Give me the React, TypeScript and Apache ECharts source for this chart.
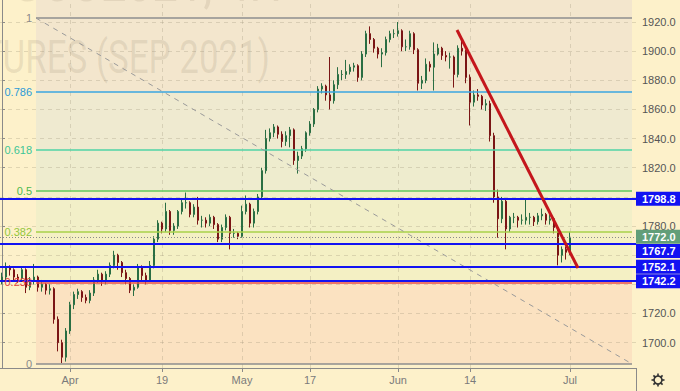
import React, { useEffect, useRef } from 'react';
import * as echarts from 'echarts';

// ---- data ----
const firstOpen = 1742;
const closes = [
  1745, 1752, 1750, 1745, 1744, 1750, 1738, 1742, 1745, 1738,
  1740, 1736, 1737, 1716, 1700, 1690, 1708, 1726, 1733, 1735,
  1731, 1729, 1734, 1743, 1747, 1742, 1747, 1753, 1760, 1755,
  1748, 1744, 1736, 1738, 1752, 1746, 1743, 1753, 1771, 1782,
  1778, 1790, 1777, 1780, 1790, 1796, 1796, 1788, 1793, 1784,
  1784, 1782, 1786, 1781, 1771, 1779, 1786, 1775, 1775, 1773,
  1790, 1795, 1782, 1790, 1800, 1818, 1840, 1844, 1848, 1843,
  1838, 1842, 1846, 1825, 1828, 1833, 1844, 1850, 1860, 1874,
  1876, 1870, 1866, 1877, 1884, 1884, 1886, 1889, 1890, 1882,
  1898, 1912, 1908, 1902, 1898, 1899, 1908, 1912, 1912, 1914,
  1903, 1903, 1912, 1901, 1878, 1880, 1891, 1889, 1898, 1902,
  1897, 1896, 1896, 1884, 1902, 1900, 1882, 1865, 1870, 1869,
  1863, 1864, 1842, 1800, 1785, 1797, 1778, 1786, 1786, 1784,
  1784, 1786, 1786, 1783, 1787, 1788, 1784, 1785, 1779, 1760,
  1764, 1762, 1772,
];
const highs = [
  1748, 1755, 1753, 1751, 1747, 1752, 1751, 1745, 1754, 1746,
  1743, 1741, 1740, 1738, 1718, 1702, 1710, 1728, 1735, 1737,
  1736, 1733, 1736, 1745, 1750, 1748, 1749, 1755, 1763, 1761,
  1756, 1750, 1745, 1740, 1754, 1753, 1748, 1756, 1773, 1784,
  1783, 1796, 1791, 1782, 1791, 1798, 1803, 1797, 1795, 1800,
  1787, 1786, 1788, 1787, 1782, 1781, 1788, 1787, 1778, 1776,
  1794, 1801, 1796, 1792, 1802, 1820, 1846, 1847, 1850, 1849,
  1845, 1845, 1848, 1847, 1831, 1835, 1845, 1852, 1861, 1876,
  1878, 1877, 1896, 1880, 1889, 1887, 1894, 1891, 1892, 1891,
  1900, 1914, 1917, 1909, 1903, 1902, 1910, 1914, 1915, 1920,
  1915, 1908, 1914, 1913, 1902, 1883, 1895, 1893, 1906, 1905,
  1903, 1900, 1899, 1897, 1904, 1908, 1901, 1884, 1873, 1874,
  1870, 1867, 1866, 1844, 1805, 1800, 1798, 1787, 1789, 1787,
  1788, 1798, 1789, 1787, 1789, 1792, 1789, 1788, 1786, 1780,
  1766, 1766, 1776,
];
const lows = [
  1740, 1743, 1746, 1742, 1741, 1742, 1734, 1736, 1740, 1735,
  1735, 1733, 1733, 1713, 1694, 1686, 1687, 1706, 1723, 1730,
  1728, 1727, 1727, 1732, 1741, 1739, 1740, 1745, 1751, 1750,
  1745, 1740, 1734, 1732, 1737, 1742, 1740, 1742, 1751, 1769,
  1775, 1776, 1774, 1774, 1778, 1788, 1792, 1786, 1786, 1781,
  1779, 1779, 1780, 1778, 1769, 1769, 1777, 1764, 1772, 1771,
  1772, 1788, 1779, 1779, 1788, 1798, 1816, 1838, 1841, 1840,
  1834, 1835, 1834, 1822, 1816, 1826, 1831, 1842, 1848, 1858,
  1871, 1866, 1860, 1864, 1874, 1880, 1881, 1884, 1886, 1879,
  1880, 1896, 1905, 1899, 1895, 1889, 1897, 1906, 1909, 1910,
  1900, 1900, 1901, 1898, 1873, 1874, 1878, 1886, 1873, 1897,
  1894, 1893, 1888, 1875, 1882, 1897, 1878, 1849, 1862, 1866,
  1860, 1859, 1838, 1796, 1772, 1782, 1764, 1776, 1782, 1779,
  1781, 1781, 1781, 1780, 1781, 1784, 1781, 1781, 1775, 1753,
  1755, 1757, 1760,
];

const totalSlots = 159; // bar slots incl. empty space on the right
const tickIndex = [17, 40, 60, 77, 99, 117, 142];
const tickLabels = ['Apr', '19', 'May', '17', 'Jun', '14', 'Jul'];
const priceTicks = [1700, 1720, 1780, 1820, 1840, 1860, 1880, 1900, 1920];
const gridValues = [1700, 1720, 1740, 1760, 1780, 1800, 1820, 1840, 1860, 1880, 1900, 1920];

const fibHigh = 1922.7;
const fibLow = 1685.4;
const fibRatios = [1, 0.786, 0.618, 0.5, 0.382, 0.236, 0];
const fibLabels = ['1', '0.786', '0.618', '0.5', '0.382', '0.236', '0'];
const fibLineColors = ['#8e8e8e', '#3aa6e0', '#4fd3a6', '#62c85c', '#a9d24a', '#e8504a', '#8e8e8e'];
const fibTextColors = ['#8a8a8a', '#2a9ad8', '#3cc596', '#4cb94c', '#93c63c', '#e0403a', '#8a8a8a'];
const bandColors = ['#f3e6cd', '#efead0', '#eeecce', '#f2efc8', '#f4f0c4', '#fbe2c1'];
const fibStartIdx = 8.5;
const fibEndIdx = 157.5;

const priceLines = [1798.8, 1767.7, 1752.1, 1742.2];
const priceLabelShift = [0, 7, 0, 0];
const lastPrice = 1772.0;
const trendStart = [113.75, 1914.5];
const trendEnd = [144, 1751.2];

const Y_MIN = 1682.6;
const Y_MAX = 1935.1;

const FONT = 'Liberation Sans';

export default function App() {
  const ref = useRef<HTMLDivElement>(null);

  useEffect(() => {
    const chart = echarts.init(ref.current!, null, { renderer: 'svg' });

    const categories = Array.from({ length: totalSlots }, (_, i) => String(i));
    const candleData = closes.map((c, i) => [i === 0 ? firstOpen : closes[i - 1], c, lows[i], highs[i]]);
    const fibPrices = fibRatios.map((r) => fibLow + (fibHigh - fibLow) * r);
    const isTick = (i: number) => tickIndex.indexOf(i) >= 0;

    const bandEdges = [Y_MAX, ...fibPrices];
    const bandData: any[] = [];
    for (let k = 0; k < bandEdges.length - 1; k++) {
      bandData.push([
        { xAxis: fibStartIdx, yAxis: bandEdges[k], itemStyle: { color: bandColors[Math.max(0, k - 1)] } },
        { xAxis: fibEndIdx, yAxis: bandEdges[k + 1] },
      ]);
    }

    const noLabel = { show: false };

    const gearTeeth = Array.from({ length: 8 }, (_, k) => {
      const a = (k * Math.PI) / 4;
      return {
        type: 'line',
        shape: { x1: Math.cos(a) * 4, y1: Math.sin(a) * 4, x2: Math.cos(a) * 6.5, y2: Math.sin(a) * 6.5 },
        style: { stroke: '#333', lineWidth: 1.6 },
      };
    });

    const boxLabel = (text: string, bg: string, dy: number) => ({
      show: true,
      position: 'end',
      formatter: text,
      backgroundColor: bg,
      color: '#fff',
      fontSize: 11,
      fontWeight: 'bold',
      padding: [2, 8, 1, 6],
      distance: 0,
      offset: [0, dy],
      fontFamily: FONT,
    });

    const option: any = {
      animation: false,
      backgroundColor: '#fdf1ca',
      textStyle: { fontFamily: FONT },
      grid: { left: 0, right: 44, top: 0, bottom: 23, containLabel: false },
      xAxis: [
        {
          type: 'category',
          data: categories,
          boundaryGap: true,
          axisLine: { show: true, lineStyle: { color: '#8a8a8a', width: 1 } },
          axisTick: {
            show: true,
            alignWithLabel: true,
            interval: (i: number) => isTick(i),
            length: 4,
            lineStyle: { color: '#8a8a8a' },
          },
          axisLabel: {
            interval: (i: number) => isTick(i),
            formatter: (_v: string, i: number) => {
              const k = tickIndex.indexOf(i);
              return k >= 0 ? tickLabels[k] : '';
            },
            color: '#7b7b7b',
            fontSize: 11,
            margin: 6,
            fontFamily: FONT,
          },
          splitLine: { show: false },
        },
        { type: 'value', min: -0.5, max: totalSlots - 0.5, show: false },
      ],
      yAxis: {
        type: 'value',
        position: 'right',
        min: Y_MIN,
        max: Y_MAX,
        axisLine: { show: true, lineStyle: { color: '#8a8a8a', width: 1 } },
        axisTick: { show: true, length: 3, customValues: priceTicks, lineStyle: { color: '#8a8a8a' } },
        axisLabel: {
          customValues: priceTicks,
          formatter: (v: number) => v.toFixed(1),
          color: '#555',
          fontSize: 11,
          margin: 6,
          fontFamily: FONT,
        },
        splitLine: { show: false },
      },
      graphic: [
        {
          type: 'text',
          x: 282,
          y: -19,
          z: 1.2,
          scaleX: 0.76,
          silent: true,
          style: {
            text: 'GCU2021, 4H',
            font: '60px Roboto',
            fill: 'rgba(140,125,100,0.16)',
            align: 'right',
            verticalAlign: 'middle',
          },
        },
        {
          type: 'text',
          x: 270,
          y: 57,
          z: 1.2,
          scaleX: 0.76,
          silent: true,
          style: {
            text: 'GOLD FUTURES (SEP 2021)',
            font: '46px Roboto',
            fill: 'rgba(140,125,100,0.16)',
            align: 'right',
            verticalAlign: 'middle',
          },
        },
        {
          type: 'line',
          shape: { x1: 636.5, y1: 368, x2: 636.5, y2: 391 },
          style: { stroke: '#8a8a8a', lineWidth: 1 },
          silent: true,
        },
        {
          type: 'group',
          x: 658,
          y: 380,
          silent: true,
          children: [
            { type: 'circle', shape: { cx: 0, cy: 0, r: 4 }, style: { fill: 'none', stroke: '#333', lineWidth: 1.6 } },
            ...gearTeeth,
          ],
        },
      ],
      series: [
        {
          type: 'line',
          xAxisIndex: 1,
          data: [],
          symbol: 'none',
          silent: true,
          markArea: { silent: true, z: 1, data: bandData, label: noLabel },
        },
        {
          type: 'line',
          xAxisIndex: 1,
          data: [],
          symbol: 'none',
          silent: true,
          markLine: {
            silent: true,
            z: 1.5,
            symbol: ['none', 'none'],
            label: noLabel,
            lineStyle: { color: 'rgba(150,140,115,0.28)', type: [4, 4], width: 1 },
            data: [
              ...gridValues.map((v) => ({ yAxis: v })),
              ...tickIndex.map((i) => ({ xAxis: i })),
            ],
          },
        },
        {
          type: 'candlestick',
          xAxisIndex: 0,
          z: 3,
          barWidth: 2.4,
          data: candleData,
          itemStyle: {
            color: '#2f7d4c',
            color0: '#8a1c1c',
            borderColor: '#2a6e43',
            borderColor0: '#7a1515',
            borderWidth: 1,
          },
        },
        {
          type: 'line',
          xAxisIndex: 1,
          data: [],
          symbol: 'none',
          silent: true,
          markLine: {
            silent: true,
            z: 5,
            symbol: ['none', 'none'],
            label: noLabel,
            data: [
              ...fibPrices.map((p, k) => [
                {
                  coord: [fibStartIdx, p],
                  lineStyle: { color: fibLineColors[k], width: 1.5, type: 'solid' },
                  label: {
                    show: true,
                    position: 'start',
                    formatter: fibLabels[k],
                    color: fibTextColors[k],
                    fontSize: 11,
                    distance: 4,
                    fontFamily: FONT,
                  },
                },
                { coord: [fibEndIdx, p] },
              ]),
              [
                { coord: [fibStartIdx, fibHigh], lineStyle: { color: '#9a9a9a', width: 1, type: [5, 5] }, label: noLabel },
                { coord: [fibEndIdx, fibLow] },
              ],
              ...priceLines.map((v, k) => ({
                yAxis: v,
                lineStyle: { color: '#1212f2', width: 2, type: 'solid' },
                label: boxLabel(v.toFixed(1), '#1212f2', priceLabelShift[k]),
              })),
              {
                yAxis: lastPrice,
                lineStyle: { color: '#8a8a8a', width: 1, type: [1, 2] },
                label: boxLabel(lastPrice.toFixed(1), '#629e79', -1),
              },
              [
                { coord: trendStart, lineStyle: { color: '#c4161c', width: 3, type: 'solid' }, label: noLabel },
                { coord: trendEnd },
              ],
            ],
          },
        },
      ],
    };

    chart.setOption(option);
    return () => chart.dispose();
  }, []);

  return <div ref={ref} style={{ position: 'fixed', left: 0, top: 0, width: 680, height: 391 }} />;
}
